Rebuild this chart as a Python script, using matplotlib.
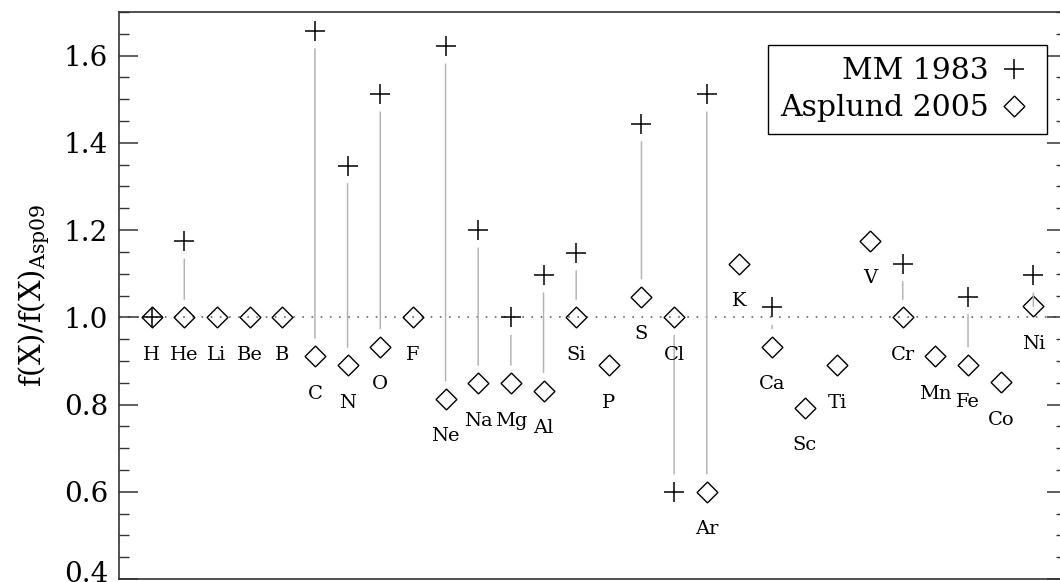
import numpy as np
import matplotlib.pyplot as plt
from matplotlib.transforms import ScaledTranslation

# отношения содержаний к Asplund 2009
elements = ['H', 'He', 'Li', 'Be', 'B', 'C', 'N', 'O', 'F', 'Ne', 'Na', 'Mg', 'Al', 'Si',
            'P', 'S', 'Cl', 'Ar', 'K', 'Ca', 'Sc', 'Ti', 'V', 'Cr', 'Mn', 'Fe', 'Co', 'Ni']
nan = np.nan
mm83 = [1.0, 1.175, nan, nan, nan, 1.657, 1.348, 1.512, nan, 1.622, 1.2, 1.0, 1.097, 1.148,
        nan, 1.444, 0.6, 1.512, nan, 1.023, nan, nan, nan, 1.123, nan, 1.047, nan, 1.097]
asplund05 = [1.0, 1.0, 1.0, 1.0, 1.0, 0.911, 0.89, 0.933, 1.0, 0.813, 0.849, 0.849, 0.832, 1.0,
             0.89, 1.047, 1.0, 0.6, 1.123, 0.933, 0.793, 0.89, 1.175, 1.0, 0.911, 0.891, 0.851, 1.025]

plt.rcParams['font.family'] = 'DejaVu Serif'
plt.rcParams['mathtext.fontset'] = 'dejavuserif'

Z = np.arange(1, len(elements) + 1)

fig = plt.figure(figsize=(10.6, 5.82), dpi=100)
ax = fig.add_axes([119/1060, 3/582, 947/1060, 567/582])

# серые линии между точками
for z, a, m in zip(Z, asplund05, mm83):
    if np.isnan(m) or m == a:
        continue
    ax.annotate('', xy=(z, a), xytext=(z, m),
                arrowprops=dict(arrowstyle='-', shrinkA=13, shrinkB=13,
                                color='#b4b4b4', lw=1.1))

ax.axhline(1.0, color='#666666', lw=1.2, ls=(0, (1, 4.5)), zorder=1)

ax.plot(Z, mm83, ls='none', marker='+', ms=15, mew=1.1, color='black', label='MM 1983')
ax.plot(Z, asplund05, ls='none', marker=(4, 0, 0), ms=15, mew=1.0, mfc='none',
        mec='black', label='Asplund 2005')

for z, a, el in zip(Z, asplund05, elements):
    ax.annotate(el, xy=(z, a), xytext=(0, -27), textcoords='offset points',
                ha='center', va='center', fontsize=14)

ax.set_xlim(0, 29)
ax.set_ylim(0.4, 1.7)
ax.set_xticks([])
ax.set_yticks(np.arange(0.4, 1.61, 0.2))
ax.set_yticks(np.arange(0.4, 1.71, 0.05), minor=True)
ax.tick_params(axis='y', which='both', direction='in', right=True, labelsize=20, pad=8,
               color='#333333')
ax.tick_params(axis='y', which='major', length=13.4, width=1.1)
ax.tick_params(axis='y', which='minor', length=7, width=1.0)
for sp in ax.spines.values():
    sp.set_color('#333333')
    sp.set_linewidth(1.2)

# подпись 0.4 чуть выше, как в оригинале
lab = ax.yaxis.get_major_ticks()[0].label1
lab.set_transform(lab.get_transform() + ScaledTranslation(0, 7/100, fig.dpi_scale_trans))

ax.set_ylabel(r'f(X)/f(X)$_{\mathrm{Asp09}}$', fontsize=21, labelpad=8)

leg = ax.legend(loc='upper right', bbox_to_anchor=(0.98, 0.941), borderaxespad=0,
                markerfirst=False, fontsize=21.5, fancybox=False, framealpha=1,
                edgecolor='black', handlelength=1.4, handletextpad=0.15,
                labelspacing=0.3, borderpad=0.4)
leg.get_frame().set_linewidth(1.0)

fig.savefig('out.png', dpi=100)
